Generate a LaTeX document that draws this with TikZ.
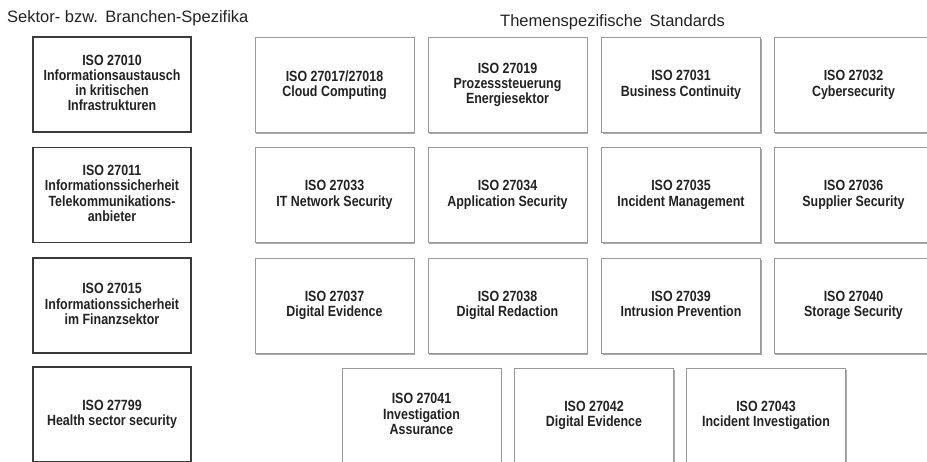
\documentclass[tikz,border=0pt]{standalone}
\usepackage{fontspec}
\setmainfont{Liberation Sans}
\newfontfamily\boxfont[FakeStretch=0.84]{Liberation Sans}
\usetikzlibrary{shadows}
\definecolor{txt}{HTML}{222222}
\definecolor{sectorline}{HTML}{3A3A3A}
\definecolor{topicline}{HTML}{9A9A9A}
\begin{document}
\begin{tikzpicture}[x=1pt,y=-1pt,
  boxtext/.style={inner sep=0pt, align=center, text=txt, font=\boxfont\bfseries\fontsize{14.8}{15.2}\selectfont,
    execute at end node={\vphantom{g}}},
  sectorbox/.style={boxtext, draw=sectorline, line width=1.1pt, fill=white, minimum width=158pt, minimum height=95pt},
  topicbox/.style={boxtext, draw=topicline, line width=0.8pt, fill=white, minimum width=159pt, minimum height=95pt,
    drop shadow={shadow xshift=1.3pt, shadow yshift=-1.8pt, opacity=0.55, fill=black!60}},
  heading/.style={anchor=base west, inner sep=0pt, text=txt, font=\fontsize{16.5}{18}\selectfont}
]
\useasboundingbox (0,0) rectangle (927,462);
\clip (0,0) rectangle (927,462);
\fill[white] (0,0) rectangle (927,462);

\node[heading] (h1) at (7,22.5) {Sektor- bzw.\ \,Branchen-Spezifika};
\node[heading] (h2) at (500,27) {Themenspezifische\ \,Standards};

% sector column
\node[sectorbox] (s1) at (112,84.5) {ISO 27010\\Informationsaustausch\\in kritischen\\Infrastrukturen};
\node[sectorbox] (s2) at (112,195) {ISO 27011\\Informationssicherheit\\Telekommunikations-\\anbieter};
\node[sectorbox] (s3) at (112,305.5) {ISO 27015\\Informationssicherheit\\im Finanzsektor};
\node[sectorbox] (s4) at (112,414.5) {ISO 27799\\Health sector security};

% topic row 1
\node[topicbox] (t1) at (334.5,85) {ISO 27017/27018\\Cloud Computing};
\node[topicbox] (t2) at (507.5,85) {ISO 27019\\Prozesssteuerung\\Energiesektor};
\node[topicbox] (t3) at (681,85) {ISO 27031\\Business Continuity};
\node[topicbox] (t4) at (853.5,85) {ISO 27032\\Cybersecurity};
% topic row 2
\node[topicbox] (t5) at (334.5,195) {ISO 27033\\IT Network Security};
\node[topicbox] (t6) at (507.5,195) {ISO 27034\\Application Security};
\node[topicbox] (t7) at (681,195) {ISO 27035\\Incident Management};
\node[topicbox] (t8) at (853.5,195) {ISO 27036\\Supplier Security};
% topic row 3
\node[topicbox] (t9) at (334.5,305.5) {ISO 27037\\Digital Evidence};
\node[topicbox] (t10) at (507.5,305.5) {ISO 27038\\Digital Redaction};
\node[topicbox] (t11) at (681,305.5) {ISO 27039\\Intrusion Prevention};
\node[topicbox] (t12) at (853.5,305.5) {ISO 27040\\Storage Security};
% topic row 4
\node[topicbox] (t13) at (421.5,415.5) {ISO 27041\\Investigation\\Assurance};
\node[topicbox] (t14) at (594,415.5) {ISO 27042\\Digital Evidence};
\node[topicbox] (t15) at (766,415.5) {ISO 27043\\Incident Investigation};
\end{tikzpicture}
\end{document}
